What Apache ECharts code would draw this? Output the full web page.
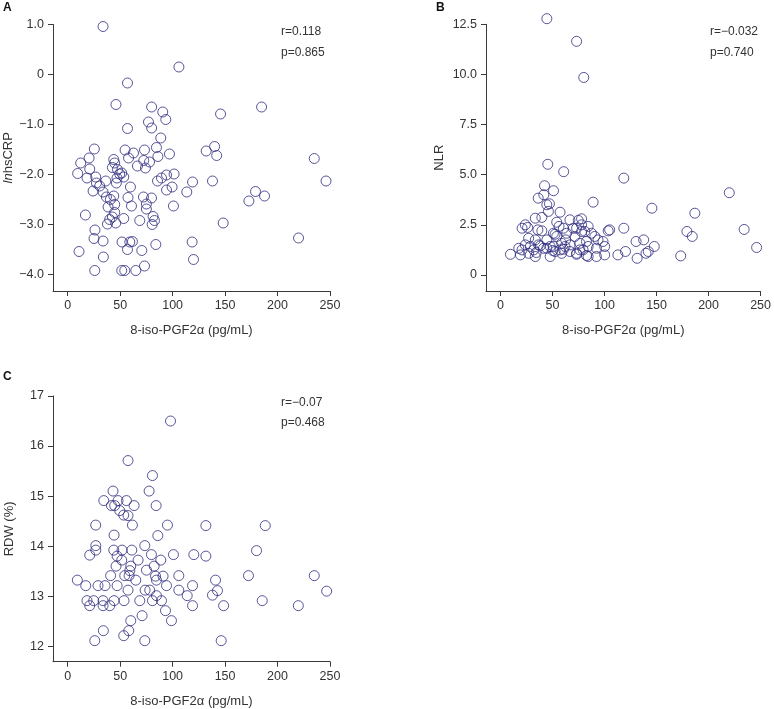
<!DOCTYPE html>
<html>
<head>
<meta charset="utf-8">
<script src="https://cdn.jsdelivr.net/npm/echarts@6/dist/echarts.min.js"></script>
<style>
html,body{margin:0;padding:0;background:#fff;}
#c{width:774px;height:709px;}
</style>
</head>
<body>
<div id="c"></div>
<script>
// ---- Data ----
var xTicks = [0, 50, 100, 150, 200, 250];
var crpTicks = [-4, -3, -2, -1, 0, 1];
var nlrTicks = [0, 2.5, 5, 7.5, 10, 12.5];
var rdwTicks = [12, 13, 14, 15, 16, 17];

var crpX = [33.7,106,57,46,80,90.6,145.7,184.8,77,93.5,57,80,88.7,25.4,54.7,73.2,84.6,62.7,97,132,140,142,20.4,12.4,43.9,44.8,58,86,72.5,78,9.5,21,18.4,26.7,27.4,36.3,24.2,30.5,33.7,36.9,42.6,47.4,49.6,53.4,46.4,47,51.5,59.8,43.9,57.5,40.7,44.8,38.5,60.8,44.8,42.6,40,37.9,45.8,53.4,16.9,26,25.1,33.7,10.8,34,25.8,51.8,57,59.2,61.7,51.5,54.4,64.9,73.2,70.6,84,68.7,72.2,79.9,75,75,81.4,82.7,80.5,66.5,74.1,85.6,89.4,94.2,101.4,99.5,94.2,100.8,113.5,119,138,118.6,119.9,148.2,172.7,179,235,246.2,187.6,220];
var crpY = [0.96,0.15,-0.17,-0.6,-0.65,-0.75,-0.79,-0.65,-0.95,-0.9,-1.08,-1.07,-1.27,-1.49,-1.51,-1.51,-1.46,-1.57,-1.59,-1.53,-1.44,-1.62,-1.67,-1.77,-1.7,-1.77,-1.67,-1.64,-1.72,-1.75,-1.98,-1.89,-2.07,-2.05,-2.17,-2.13,-2.33,-2.23,-2.35,-2.45,-1.86,-1.9,-1.99,-2.05,-2.17,-2.07,-1.97,-2.25,-2.43,-2.46,-2.5,-2.6,-2.65,-2.63,-2.76,-2.85,-2.9,-2.99,-2.97,-2.88,-2.81,-3.11,-3.28,-3.33,-3.54,-3.65,-3.92,-3.35,-3.5,-3.35,-3.34,-3.92,-3.92,-3.92,-3.83,-3.52,-3.4,-2.92,-2.45,-2.47,-2.59,-2.69,-2.84,-2.92,-3.0,-1.83,-1.87,-2.13,-2.07,-2.01,-1.99,-2.25,-2.31,-2.63,-2.35,-2.15,-2.13,-3.35,-3.7,-2.97,-2.53,-2.34,-1.68,-2.13,-2.43,-3.27];

var nlrX = [44.5,73.1,80,45.4,60.7,42.3,50.9,41.6,36.2,47,44.5,46,57.2,33.4,39.7,54,66.7,77.9,74.7,23.8,20.7,26,35.9,39.7,56.2,60.4,69.9,63.6,52.4,81,27,33.4,44.5,71.5,82.6,58.8,23.8,36.5,47.7,66.7,76.3,17.5,41.3,57.2,62,79.4,9.5,19.1,27,33.4,47.7,52.4,58.8,66.7,73.1,82.6,31.8,54,50.8,62.6,28.6,38.1,44.5,50.8,60.4,34.3,50.2,20.6,89,145.5,77.9,84.2,104.9,103.5,118.5,73.1,77.9,87.4,90.6,93.7,98.5,130.3,137.6,147.8,84.2,100.1,92.2,76.3,73.1,84.2,92.2,100.1,112.8,120.1,131.3,139.8,142,118.5,219.9,186.8,234.2,179.2,184.3,246.2,173.2];
var nlrY = [12.78,11.65,9.85,5.52,5.15,4.45,4.2,4.0,3.83,3.55,3.5,3.17,3.13,2.83,2.87,2.63,2.75,2.8,2.72,2.5,2.33,2.37,2.25,2.2,2.42,2.33,2.33,2.08,2.03,2.17,1.83,1.75,1.75,1.92,1.67,1.58,1.5,1.5,1.42,1.5,1.58,1.33,1.33,1.25,1.42,1.25,1.03,1.0,1.08,0.92,0.92,1.17,1.08,1.17,1.03,0.97,1.25,1.92,2.08,1.75,1.42,1.45,1.33,1.42,1.28,1.12,1.22,1.25,3.63,3.33,2.5,2.42,2.25,2.2,2.33,2.33,2.17,2.08,1.92,1.75,1.67,1.67,1.75,1.42,1.42,1.42,1.33,1.25,1.08,0.92,0.92,1.0,1.0,1.17,0.83,1.08,1.17,4.83,4.1,3.08,2.27,2.17,1.92,1.37,0.95];

var rdwX = [98,57.5,80.8,77.6,43.2,34.4,48,56,41.7,44.8,63.3,84.3,49.6,53.4,57.5,61.7,26.7,95.1,44.2,85.9,26.8,73.5,26.8,21,43.9,51.8,61.1,47.1,51.5,67.1,79.8,88.7,100.8,120.2,46.1,60.1,75.1,82.4,40.9,59.2,58.5,54.4,64.9,83.7,84.6,90.9,105.9,9.2,17.2,28.9,35.6,47.1,57.5,73.8,78.2,94.2,105.9,119,113.9,84.6,18.4,24.8,33.7,44.2,53.7,68.7,80.8,89.4,21,33.7,40.1,119,93.2,70.9,60.1,98.9,58.2,34,53.4,25.8,73.5,131.7,188.3,180,131.7,172.3,235,140.9,142.8,138,246.8,185.4,148.6,219.8,146.3];
var rdwY = [16.5,15.71,15.41,15.1,15.1,14.91,14.91,14.91,14.81,14.81,14.81,14.81,14.71,14.62,14.61,14.42,14.42,14.42,14.22,14.21,14.01,14.01,13.92,13.82,13.92,13.92,13.92,13.8,13.72,13.72,13.83,13.72,13.83,13.83,13.6,13.6,13.52,13.6,13.41,13.51,13.41,13.41,13.32,13.4,13.32,13.4,13.41,13.32,13.21,13.21,13.21,13.21,13.12,13.12,13.12,13.21,13.12,13.21,13.01,13.01,12.91,12.91,12.91,12.91,12.91,12.91,12.91,12.91,12.81,12.81,12.81,12.81,12.71,12.61,12.51,12.51,12.31,12.31,12.21,12.11,12.11,14.41,14.41,13.91,13.8,13.41,13.41,13.32,13.11,13.02,13.1,12.91,12.81,12.81,12.11];

var xName = '8-iso-PGF2\u03b1 (pg/mL)';
var stats = [['r=0.118','p=0.865'],['r=\u22120.032','p=0.740'],['r=\u22120.07','p=0.468']];

// ---- Chart ----
function zip(xs, ys){ var o=[]; for(var i=0;i<xs.length;i++) o.push([xs[i], ys[i]]); return o; }
var FONT = '"Liberation Sans", Arial, sans-serif';
var AX = '#3a3a3a';
var PT = '#2e2c7e';

function xAxisDef(gi){
  return {
    type:'value', gridIndex:gi, min:-14, max:250,
    name:xName, nameLocation:'middle', nameGap:33,
    nameTextStyle:{fontFamily:FONT, fontSize:13, color:'#333'},
    axisLine:{show:true, onZero:false, lineStyle:{color:AX, width:1}},
    axisTick:{show:true, length:5, customValues:xTicks, lineStyle:{color:AX}},
    axisLabel:{customValues:xTicks, margin:8, fontFamily:FONT, fontSize:12.5, color:'#333'},
    splitLine:{show:false}
  };
}
function yAxisDef(gi, min, max, ticks, fmt, name, gap, rich){
  var ns = {fontFamily:FONT, fontSize:13, color:'#333'};
  if (rich) ns.rich = rich;
  return {
    type:'value', gridIndex:gi, min:min, max:max,
    name:name, nameLocation:'middle', nameGap:gap, nameRotate:90,
    nameTextStyle:ns,
    axisLine:{show:true, onZero:false, lineStyle:{color:AX, width:1}},
    axisTick:{show:true, length:5, customValues:ticks, lineStyle:{color:AX}},
    axisLabel:{customValues:ticks, margin:9, formatter:fmt, fontFamily:FONT, fontSize:12.5, color:'#333'},
    splitLine:{show:false}
  };
}
function fmtA(v){ if (Math.abs(v)<1e-9) return '0'; return v.toFixed(1).replace('-', '\u2212'); }
function fmtB(v){ if (Math.abs(v)<1e-9) return '0'; return v.toFixed(1); }
function fmtC(v){ return String(Math.round(v)); }

function scatter(gi, data){
  return {
    type:'scatter', xAxisIndex:gi, yAxisIndex:gi, data:data, clip:false,
    symbol:'circle', symbolSize:10,
    itemStyle:{color:'rgba(0,0,0,0)', borderColor:PT, borderWidth:1},
    emphasis:{disabled:true}, silent:true, animation:false
  };
}
function txt(left, top, s, bold, size){
  return {type:'text', left:left, top:top, silent:true,
    style:{text:s, fill: bold ? '#111' : '#333', fontFamily:FONT, fontSize:size||12, fontWeight: bold ? 'bold' : 'normal'}};
}

var chart = echarts.init(document.getElementById('c'), null, {renderer:'canvas'});
chart.setOption({
  animation:false,
  backgroundColor:'#fff',
  grid:[
    {left:53, top:24.5, width:277, height:266.5},
    {left:486, top:24.3, width:276.5, height:266.7},
    {left:53, top:396, width:277, height:265.7}
  ],
  xAxis:[xAxisDef(0), xAxisDef(1), xAxisDef(2)],
  yAxis:[
    yAxisDef(0, -4.33, 1.0, crpTicks, fmtA, '{i|ln}hsCRP', 38, {i:{fontStyle:'italic', fontFamily:FONT, fontSize:13, color:'#333'}}),
    yAxisDef(1, -0.8, 12.5, nlrTicks, fmtB, 'NLR', 40),
    yAxisDef(2, 11.69, 17, rdwTicks, fmtC, 'RDW (%)', 37)
  ],
  series:[
    scatter(0, zip(crpX, crpY)),
    scatter(1, zip(nlrX, nlrY)),
    scatter(2, zip(rdwX, rdwY))
  ],
  graphic:[
    txt(3, 2, 'A', true, 12),
    txt(436, 2, 'B', true, 12),
    txt(3, 371, 'C', true, 12),
    txt(281, 26, stats[0][0]), txt(281, 47, stats[0][1]),
    txt(710, 26, stats[1][0]), txt(710, 47, stats[1][1]),
    txt(281, 397, stats[2][0]), txt(281, 417, stats[2][1])
  ]
});
</script>
</body>
</html>
